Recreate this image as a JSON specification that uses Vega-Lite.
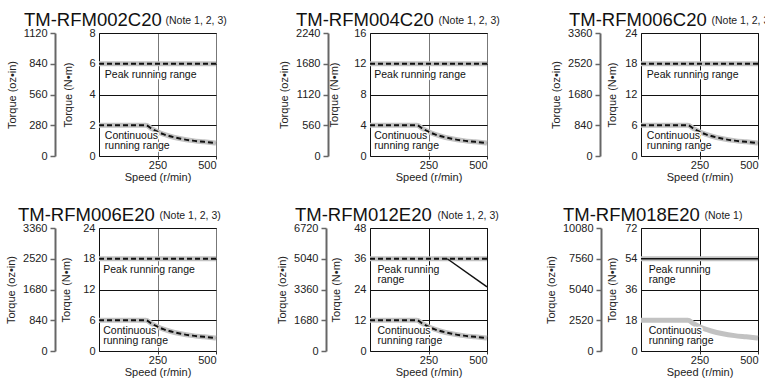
{
"$schema": "https://vega.github.io/schema/vega-lite/v6.json",
"background": "white",
"padding": {"left": 5, "top": 10, "right": 5, "bottom": 5},
"bounds": "flush",
"columns": 3,
"spacing": {"row": 72, "column": 154},
"datasets": {
"p1": [{"series":"Peak","speed":0,"torque":6},{"series":"Peak","speed":500,"torque":6},{"series":"Continuous","speed":0,"torque":2},{"series":"Continuous","speed":200,"torque":2},{"series":"Continuous","speed":225,"torque":1.78},{"series":"Continuous","speed":250,"torque":1.58},{"series":"Continuous","speed":275,"torque":1.42},{"series":"Continuous","speed":300,"torque":1.3},{"series":"Continuous","speed":350,"torque":1.12},{"series":"Continuous","speed":400,"torque":1.0},{"series":"Continuous","speed":450,"torque":0.92},{"series":"Continuous","speed":500,"torque":0.84}],
"p2": [{"series":"Peak","speed":0,"torque":12},{"series":"Peak","speed":500,"torque":12},{"series":"Continuous","speed":0,"torque":4},{"series":"Continuous","speed":200,"torque":4},{"series":"Continuous","speed":225,"torque":3.56},{"series":"Continuous","speed":250,"torque":3.16},{"series":"Continuous","speed":275,"torque":2.84},{"series":"Continuous","speed":300,"torque":2.6},{"series":"Continuous","speed":350,"torque":2.24},{"series":"Continuous","speed":400,"torque":2.0},{"series":"Continuous","speed":450,"torque":1.84},{"series":"Continuous","speed":500,"torque":1.68}],
"p3": [{"series":"Peak","speed":0,"torque":18},{"series":"Peak","speed":500,"torque":18},{"series":"Continuous","speed":0,"torque":6},{"series":"Continuous","speed":200,"torque":6},{"series":"Continuous","speed":225,"torque":5.34},{"series":"Continuous","speed":250,"torque":4.74},{"series":"Continuous","speed":275,"torque":4.26},{"series":"Continuous","speed":300,"torque":3.9},{"series":"Continuous","speed":350,"torque":3.36},{"series":"Continuous","speed":400,"torque":3.0},{"series":"Continuous","speed":450,"torque":2.76},{"series":"Continuous","speed":500,"torque":2.52}],
"p4": [{"series":"Peak","speed":0,"torque":18},{"series":"Peak","speed":500,"torque":18},{"series":"Continuous","speed":0,"torque":6},{"series":"Continuous","speed":200,"torque":6},{"series":"Continuous","speed":225,"torque":5.34},{"series":"Continuous","speed":250,"torque":4.74},{"series":"Continuous","speed":275,"torque":4.26},{"series":"Continuous","speed":300,"torque":3.9},{"series":"Continuous","speed":350,"torque":3.36},{"series":"Continuous","speed":400,"torque":3.0},{"series":"Continuous","speed":450,"torque":2.76},{"series":"Continuous","speed":500,"torque":2.52}],
"p5": [{"series":"Peak","speed":0,"torque":36},{"series":"Peak","speed":500,"torque":36},{"series":"Drop","speed":330,"torque":36},{"series":"Drop","speed":500,"torque":25},{"series":"Continuous","speed":0,"torque":12},{"series":"Continuous","speed":200,"torque":12},{"series":"Continuous","speed":225,"torque":10.68},{"series":"Continuous","speed":250,"torque":9.48},{"series":"Continuous","speed":275,"torque":8.52},{"series":"Continuous","speed":300,"torque":7.8},{"series":"Continuous","speed":350,"torque":6.72},{"series":"Continuous","speed":400,"torque":6.0},{"series":"Continuous","speed":450,"torque":5.52},{"series":"Continuous","speed":500,"torque":5.04}],
"p6": [{"series":"Peak","speed":0,"torque":54},{"series":"Peak","speed":500,"torque":54},{"series":"Continuous","speed":0,"torque":18},{"series":"Continuous","speed":200,"torque":18},{"series":"Continuous","speed":225,"torque":16.02},{"series":"Continuous","speed":250,"torque":14.22},{"series":"Continuous","speed":275,"torque":12.78},{"series":"Continuous","speed":300,"torque":11.7},{"series":"Continuous","speed":350,"torque":10.08},{"series":"Continuous","speed":400,"torque":9.0},{"series":"Continuous","speed":450,"torque":8.28},{"series":"Continuous","speed":500,"torque":7.56}],
"t1": [{"label":"Peak running range","speed":25,"torque":6},{"label":"Continuous\nrunning range","speed":25,"torque":2}],
"t2": [{"label":"Peak running range","speed":18,"torque":12},{"label":"Continuous\nrunning range","speed":18,"torque":4}],
"t3": [{"label":"Peak running range","speed":25,"torque":18},{"label":"Continuous\nrunning range","speed":25,"torque":6}],
"t4": [{"label":"Peak running range","speed":18,"torque":18},{"label":"Continuous\nrunning range","speed":18,"torque":6}],
"t5": [{"label":"Peak running\nrange","speed":32,"torque":36},{"label":"Continuous\nrunning range","speed":32,"torque":12}],
"t6": [{"label":"Peak running\nrange","speed":33,"torque":54},{"label":"Continuous\nrunning range","speed":33,"torque":18}]
},
"concat": [
{
"width": 117, "height": 123,
"title": {"text": "TM-RFM002C20", "dx": -75},
"data": {"name": "p1"},
"resolve": {"axis": {"x": "independent", "y": "independent"}},
"layer": [
{"mark": {"type": "line", "stroke": "#c2c2c2", "strokeWidth": 5, "interpolate": "monotone"},
 "transform": [{"filter": "datum.series != 'Drop'"}],
 "encoding": {
  "x": {"field": "speed", "type": "quantitative", "scale": {"domain": [0, 500], "nice": false}, "axis": {"values": [250, 500], "title": "Speed (r/min)", "gridColor": "#777"}},
  "y": {"field": "torque", "type": "quantitative", "scale": {"domain": [0, 8], "nice": false}, "axis": {"values": [0, 2, 4, 6, 8], "title": "Torque (N•m)", "titlePadding": 15}},
  "detail": {"field": "series"}}},
{"mark": {"type": "line", "stroke": "#111", "strokeWidth": 2, "strokeDash": [5, 3], "interpolate": "monotone"},
 "transform": [{"filter": "datum.series != 'Drop'"}],
 "encoding": {"x": {"field": "speed", "type": "quantitative", "axis": null}, "y": {"field": "torque", "type": "quantitative", "axis": null}, "detail": {"field": "series"}}},
{"data": {"name": "t1"},
 "mark": {"type": "text", "align": "left", "baseline": "top", "dy": 6, "fontSize": 10.5, "lineHeight": 10, "lineBreak": "\n", "fill": "white", "stroke": "white", "strokeWidth": 3, "strokeJoin": "round"},
 "encoding": {"x": {"field": "speed", "type": "quantitative", "axis": null}, "y": {"field": "torque", "type": "quantitative", "axis": null}, "text": {"field": "label", "type": "nominal"}}},
{"data": {"name": "t1"},
 "mark": {"type": "text", "align": "left", "baseline": "top", "dy": 6, "fontSize": 10.5, "lineHeight": 10, "lineBreak": "\n", "fill": "#111"},
 "encoding": {
  "x": {"field": "speed", "type": "quantitative", "axis": {"orient": "top", "title": "(Note 1, 2, 3)", "titleX": 66, "titleY": -10}},
  "y": {"field": "torque", "type": "quantitative", "axis": {"orient": "left", "offset": 44, "values": [0, 2, 4, 6, 8], "labelExpr": "format(datum.value*140,'d')", "domain": true, "domainColor": "#666", "domainWidth": 2, "ticks": true, "tickColor": "#666", "tickSize": 5, "tickWidth": 1.5, "grid": false, "labelPadding": 3, "title": "Torque (oz•in)", "titlePadding": 6}},
  "text": {"field": "label", "type": "nominal"}}}
]
},
{
"width": 117, "height": 123,
"title": {"text": "TM-RFM004C20", "dx": -74},
"data": {"name": "p2"},
"resolve": {"axis": {"x": "independent", "y": "independent"}},
"layer": [
{"mark": {"type": "line", "stroke": "#c2c2c2", "strokeWidth": 5, "interpolate": "monotone"},
 "transform": [{"filter": "datum.series != 'Drop'"}],
 "encoding": {
  "x": {"field": "speed", "type": "quantitative", "scale": {"domain": [0, 500], "nice": false}, "axis": {"values": [250, 500], "title": "Speed (r/min)", "gridColor": "#777"}},
  "y": {"field": "torque", "type": "quantitative", "scale": {"domain": [0, 16], "nice": false}, "axis": {"values": [0, 4, 8, 12, 16], "title": "Torque (N•m)", "titlePadding": 14}},
  "detail": {"field": "series"}}},
{"mark": {"type": "line", "stroke": "#111", "strokeWidth": 2, "strokeDash": [5, 3], "interpolate": "monotone"},
 "transform": [{"filter": "datum.series != 'Drop'"}],
 "encoding": {"x": {"field": "speed", "type": "quantitative", "axis": null}, "y": {"field": "torque", "type": "quantitative", "axis": null}, "detail": {"field": "series"}}},
{"data": {"name": "t2"},
 "mark": {"type": "text", "align": "left", "baseline": "top", "dy": 6, "fontSize": 10.5, "lineHeight": 10, "lineBreak": "\n", "fill": "white", "stroke": "white", "strokeWidth": 3, "strokeJoin": "round"},
 "encoding": {"x": {"field": "speed", "type": "quantitative", "axis": null}, "y": {"field": "torque", "type": "quantitative", "axis": null}, "text": {"field": "label", "type": "nominal"}}},
{"data": {"name": "t2"},
 "mark": {"type": "text", "align": "left", "baseline": "top", "dy": 6, "fontSize": 10.5, "lineHeight": 10, "lineBreak": "\n", "fill": "#111"},
 "encoding": {
  "x": {"field": "speed", "type": "quantitative", "axis": {"orient": "top", "title": "(Note 1, 2, 3)", "titleX": 68, "titleY": -10}},
  "y": {"field": "torque", "type": "quantitative", "axis": {"orient": "left", "offset": 42, "values": [0, 4, 8, 12, 16], "labelExpr": "format(datum.value*140,'d')", "domain": true, "domainColor": "#666", "domainWidth": 2, "ticks": true, "tickColor": "#666", "tickSize": 5, "tickWidth": 1.5, "grid": false, "labelPadding": 3, "title": "Torque (oz•in)", "titlePadding": 6}},
  "text": {"field": "label", "type": "nominal"}}}
]
},
{
"width": 117, "height": 123,
"title": {"text": "TM-RFM006C20", "dx": -72},
"data": {"name": "p3"},
"resolve": {"axis": {"x": "independent", "y": "independent"}},
"layer": [
{"mark": {"type": "line", "stroke": "#c2c2c2", "strokeWidth": 5, "interpolate": "monotone"},
 "transform": [{"filter": "datum.series != 'Drop'"}],
 "encoding": {
  "x": {"field": "speed", "type": "quantitative", "scale": {"domain": [0, 500], "nice": false}, "axis": {"values": [250, 500], "title": "Speed (r/min)", "gridColor": "#111"}},
  "y": {"field": "torque", "type": "quantitative", "scale": {"domain": [0, 24], "nice": false}, "axis": {"values": [0, 6, 12, 18, 24], "title": "Torque (N•m)", "titlePadding": 7}},
  "detail": {"field": "series"}}},
{"mark": {"type": "line", "stroke": "#111", "strokeWidth": 2, "strokeDash": [5, 3], "interpolate": "monotone"},
 "transform": [{"filter": "datum.series != 'Drop'"}],
 "encoding": {"x": {"field": "speed", "type": "quantitative", "axis": null}, "y": {"field": "torque", "type": "quantitative", "axis": null}, "detail": {"field": "series"}}},
{"data": {"name": "t3"},
 "mark": {"type": "text", "align": "left", "baseline": "top", "dy": 6, "fontSize": 10.5, "lineHeight": 10, "lineBreak": "\n", "fill": "white", "stroke": "white", "strokeWidth": 3, "strokeJoin": "round"},
 "encoding": {"x": {"field": "speed", "type": "quantitative", "axis": null}, "y": {"field": "torque", "type": "quantitative", "axis": null}, "text": {"field": "label", "type": "nominal"}}},
{"data": {"name": "t3"},
 "mark": {"type": "text", "align": "left", "baseline": "top", "dy": 6, "fontSize": 10.5, "lineHeight": 10, "lineBreak": "\n", "fill": "#111"},
 "encoding": {
  "x": {"field": "speed", "type": "quantitative", "axis": {"orient": "top", "title": "(Note 1, 2, 3)", "titleX": 70, "titleY": -10}},
  "y": {"field": "torque", "type": "quantitative", "axis": {"orient": "left", "offset": 41, "values": [0, 6, 12, 18, 24], "labelExpr": "format(datum.value*140,'d')", "domain": true, "domainColor": "#666", "domainWidth": 2, "ticks": true, "tickColor": "#666", "tickSize": 5, "tickWidth": 1.5, "grid": false, "labelPadding": 3, "title": "Torque (oz•in)", "titlePadding": 6}},
  "text": {"field": "label", "type": "nominal"}}}
]
},
{
"width": 117, "height": 123,
"title": {"text": "TM-RFM006E20", "dx": -81},
"data": {"name": "p4"},
"resolve": {"axis": {"x": "independent", "y": "independent"}},
"layer": [
{"mark": {"type": "line", "stroke": "#c2c2c2", "strokeWidth": 5, "interpolate": "monotone"},
 "transform": [{"filter": "datum.series != 'Drop'"}],
 "encoding": {
  "x": {"field": "speed", "type": "quantitative", "scale": {"domain": [0, 500], "nice": false}, "axis": {"values": [250, 500], "title": "Speed (r/min)", "gridColor": "#777"}},
  "y": {"field": "torque", "type": "quantitative", "scale": {"domain": [0, 24], "nice": false}, "axis": {"values": [0, 6, 12, 18, 24], "title": "Torque (N•m)", "titlePadding": 11}},
  "detail": {"field": "series"}}},
{"mark": {"type": "line", "stroke": "#111", "strokeWidth": 2, "strokeDash": [5, 3], "interpolate": "monotone"},
 "transform": [{"filter": "datum.series != 'Drop'"}],
 "encoding": {"x": {"field": "speed", "type": "quantitative", "axis": null}, "y": {"field": "torque", "type": "quantitative", "axis": null}, "detail": {"field": "series"}}},
{"data": {"name": "t4"},
 "mark": {"type": "text", "align": "left", "baseline": "top", "dy": 6, "fontSize": 10.5, "lineHeight": 10, "lineBreak": "\n", "fill": "white", "stroke": "white", "strokeWidth": 3, "strokeJoin": "round"},
 "encoding": {"x": {"field": "speed", "type": "quantitative", "axis": null}, "y": {"field": "torque", "type": "quantitative", "axis": null}, "text": {"field": "label", "type": "nominal"}}},
{"data": {"name": "t4"},
 "mark": {"type": "text", "align": "left", "baseline": "top", "dy": 6, "fontSize": 10.5, "lineHeight": 10, "lineBreak": "\n", "fill": "#111"},
 "encoding": {
  "x": {"field": "speed", "type": "quantitative", "axis": {"orient": "top", "title": "(Note 1, 2, 3)", "titleX": 60, "titleY": -10}},
  "y": {"field": "torque", "type": "quantitative", "axis": {"orient": "left", "offset": 44, "values": [0, 6, 12, 18, 24], "labelExpr": "format(datum.value*140,'d')", "domain": true, "domainColor": "#666", "domainWidth": 2, "ticks": true, "tickColor": "#666", "tickSize": 5, "tickWidth": 1.5, "grid": false, "labelPadding": 3, "title": "Torque (oz•in)", "titlePadding": 6}},
  "text": {"field": "label", "type": "nominal"}}}
]
},
{
"width": 117, "height": 123,
"title": {"text": "TM-RFM012E20", "dx": -75},
"data": {"name": "p5"},
"resolve": {"axis": {"x": "independent", "y": "independent"}},
"layer": [
{"mark": {"type": "line", "stroke": "#c2c2c2", "strokeWidth": 5, "interpolate": "monotone"},
 "transform": [{"filter": "datum.series != 'Drop'"}],
 "encoding": {
  "x": {"field": "speed", "type": "quantitative", "scale": {"domain": [0, 500], "nice": false}, "axis": {"values": [250, 500], "title": "Speed (r/min)", "gridColor": "#111"}},
  "y": {"field": "torque", "type": "quantitative", "scale": {"domain": [0, 48], "nice": false}, "axis": {"values": [0, 12, 24, 36, 48], "title": "Torque (N•m)", "titlePadding": 12}},
  "detail": {"field": "series"}}},
{"mark": {"type": "line", "stroke": "#111", "strokeWidth": 2, "strokeDash": [5, 3], "interpolate": "monotone"},
 "transform": [{"filter": "datum.series != 'Drop'"}],
 "encoding": {"x": {"field": "speed", "type": "quantitative", "axis": null}, "y": {"field": "torque", "type": "quantitative", "axis": null}, "detail": {"field": "series"}}},
{"mark": {"type": "line", "stroke": "#111", "strokeWidth": 1.5},
 "transform": [{"filter": "datum.series == 'Drop'"}],
 "encoding": {"x": {"field": "speed", "type": "quantitative", "axis": null}, "y": {"field": "torque", "type": "quantitative", "axis": null}}},
{"data": {"name": "t5"},
 "mark": {"type": "text", "align": "left", "baseline": "top", "dy": 6, "fontSize": 10.5, "lineHeight": 10, "lineBreak": "\n", "fill": "white", "stroke": "white", "strokeWidth": 3, "strokeJoin": "round"},
 "encoding": {"x": {"field": "speed", "type": "quantitative", "axis": null}, "y": {"field": "torque", "type": "quantitative", "axis": null}, "text": {"field": "label", "type": "nominal"}}},
{"data": {"name": "t5"},
 "mark": {"type": "text", "align": "left", "baseline": "top", "dy": 6, "fontSize": 10.5, "lineHeight": 10, "lineBreak": "\n", "fill": "#111"},
 "encoding": {
  "x": {"field": "speed", "type": "quantitative", "axis": {"orient": "top", "title": "(Note 1, 2, 3)", "titleX": 67, "titleY": -10}},
  "y": {"field": "torque", "type": "quantitative", "axis": {"orient": "left", "offset": 44, "values": [0, 12, 24, 36, 48], "labelExpr": "format(datum.value*140,'d')", "domain": true, "domainColor": "#666", "domainWidth": 2, "ticks": true, "tickColor": "#666", "tickSize": 5, "tickWidth": 1.5, "grid": false, "labelPadding": 3, "title": "Torque (oz•in)", "titlePadding": 6}},
  "text": {"field": "label", "type": "nominal"}}}
]
},
{
"width": 117, "height": 123,
"title": {"text": "TM-RFM018E20", "dx": -78},
"data": {"name": "p6"},
"resolve": {"axis": {"x": "independent", "y": "independent"}},
"layer": [
{"mark": {"type": "line", "stroke": "#c2c2c2", "strokeWidth": 5, "interpolate": "monotone"},
 "encoding": {
  "x": {"field": "speed", "type": "quantitative", "scale": {"domain": [0, 500], "nice": false}, "axis": {"values": [250, 500], "title": "Speed (r/min)", "gridColor": "#111"}},
  "y": {"field": "torque", "type": "quantitative", "scale": {"domain": [0, 72], "nice": false}, "axis": {"values": [0, 18, 36, 54, 72], "title": "Torque (N•m)", "titlePadding": 7}},
  "detail": {"field": "series"}}},
{"mark": {"type": "line", "stroke": "#111", "strokeWidth": 1.5},
 "transform": [{"filter": "datum.series == 'Peak'"}],
 "encoding": {"x": {"field": "speed", "type": "quantitative", "axis": null}, "y": {"field": "torque", "type": "quantitative", "axis": null}}},
{"data": {"name": "t6"},
 "mark": {"type": "text", "align": "left", "baseline": "top", "dy": 6, "fontSize": 10.5, "lineHeight": 10, "lineBreak": "\n", "fill": "white", "stroke": "white", "strokeWidth": 3, "strokeJoin": "round"},
 "encoding": {"x": {"field": "speed", "type": "quantitative", "axis": null}, "y": {"field": "torque", "type": "quantitative", "axis": null}, "text": {"field": "label", "type": "nominal"}}},
{"data": {"name": "t6"},
 "mark": {"type": "text", "align": "left", "baseline": "top", "dy": 6, "fontSize": 10.5, "lineHeight": 10, "lineBreak": "\n", "fill": "#111"},
 "encoding": {
  "x": {"field": "speed", "type": "quantitative", "axis": {"orient": "top", "title": "(Note 1)", "titleX": 63, "titleY": -10}},
  "y": {"field": "torque", "type": "quantitative", "axis": {"orient": "left", "offset": 40, "values": [0, 18, 36, 54, 72], "labelExpr": "format(datum.value*140,'d')", "domain": true, "domainColor": "#666", "domainWidth": 2, "ticks": true, "tickColor": "#666", "tickSize": 5, "tickWidth": 1.5, "grid": false, "labelPadding": 3, "title": "Torque (oz•in)", "titlePadding": 6}},
  "text": {"field": "label", "type": "nominal"}}}
]
}
],
"config": {
"font": "Liberation Sans",
"view": {"stroke": "#111", "strokeWidth": 1},
"style": {"guide-title": {"font": "Liberation Sans", "fontSize": 11, "fontWeight": "normal", "fill": "#222"}, "guide-label": {"font": "Liberation Sans Narrow, Liberation Sans", "fontSize": 11, "fill": "#222"}},
"axis": {"labelFont": "Liberation Sans Narrow, Liberation Sans", "labelFontSize": 11, "labelColor": "#222", "titleFont": "Liberation Sans", "titleFontSize": 11, "titleFontWeight": "normal", "titleColor": "#222", "gridColor": "#111", "gridWidth": 1, "gridOpacity": 1, "domain": false, "ticks": false},
"axisBottom": {"ticks": true, "tickSize": 3, "tickColor": "#333", "labelPadding": 0, "titlePadding": 1, "labelAngle": 0, "titleFontWeight": "normal", "titleFontSize": 11},
"axisTop": {"labels": false, "ticks": false, "domain": false, "grid": false, "titleFontSize": 10.5, "titleFontWeight": "normal", "titleAlign": "left", "titleBaseline": "alphabetic", "titleAngle": 0},
"axisLeft": {"labelPadding": 4, "grid": true, "titleFontWeight": "normal", "titleFontSize": 11},
"title": {"anchor": "start", "frame": "group", "baseline": "alphabetic", "offset": -14, "fontSize": 18.5, "fontWeight": "normal", "font": "Liberation Sans", "color": "#111"}
}
}
